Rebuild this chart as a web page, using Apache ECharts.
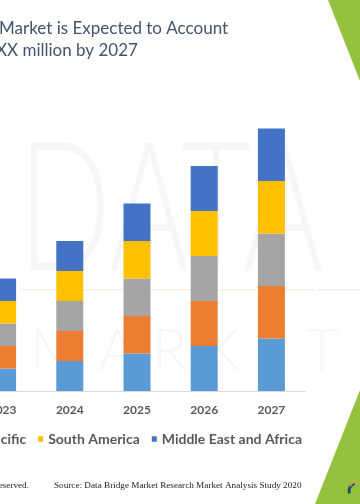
<!DOCTYPE html>
<html>
<head>
<meta charset="utf-8">
<script src="https://cdn.jsdelivr.net/npm/echarts@6/dist/echarts.min.js"></script>
<style>
html,body{margin:0;padding:0;background:#fff;}
#c{width:360px;height:504px;}
</style>
</head>
<body>
<div id="c"></div>
<script>
var categories = ['2023', '2024', '2025', '2026', '2027'];
var northAmerica = [3, 4, 5, 6, 7];
var europe = [3, 4, 5, 6, 7];
var asiaPacific = [3, 4, 5, 6, 7];
var southAmerica = [3, 4, 5, 6, 7];
var middleEastAfrica = [3, 4, 5, 6, 7];
var seriesNames = ['North America', 'Europe', 'Asia-Pacific', 'South America', 'Middle East and Africa'];
var seriesColors = ['#5B9BD5', '#ED7D31', '#A5A5A5', '#FFC000', '#4472C4'];
var seriesData = [northAmerica, europe, asiaPacific, southAmerica, middleEastAfrica];

var chart = echarts.init(document.getElementById('c'), null, {renderer: 'canvas'});

var series = seriesNames.map(function (n, i) {
  return {
    name: n,
    type: 'bar',
    stack: 'total',
    barWidth: 27,
    itemStyle: {color: seriesColors[i]},
    emphasis: {disabled: true},
    data: seriesData[i]
  };
});

var option = {
  animation: false,
  backgroundColor: '#ffffff',
  title: [
    {
      text: 'Source: Data Bridge Market Research Market Analysis Study 2020',
      left: 54, top: 481, padding: 0,
      textStyle: {fontFamily: 'Liberation Serif', fontSize: 9.2, fontWeight: 'normal', color: '#222222'}
    }
  ],
  graphic: [
    {
      type: 'text', z: -10, silent: true, x: 18, y: 122, scaleX: 0.68,
      style: {text: 'DATA BRIDGE', x: 0, y: 0, font: '300 180px Lato', fill: '#F6F6F6'}
    },
    {
      type: 'rect', z: -10, silent: true,
      shape: {x: 20, y: 289, width: 295, height: 1.5},
      style: {fill: '#FCEFE4'}
    },
    {
      type: 'rect', z: -10, silent: true,
      shape: {x: 318, y: 289, width: 42, height: 1.5},
      style: {fill: '#E8EFF8'}
    },
    {
      type: 'text', z: -10, silent: true,
      style: {text: 'M A R K E T', x: 30, y: 322, font: '300 58px Lato', fill: '#F7F7F7'}
    },
    {
      type: 'text', silent: true,
      style: {text: 'Market is Expected to Account', x: -1, y: 28.5, textVerticalAlign: 'middle',
        font: '17px Lato', fill: '#44546A'}
    },
    {
      type: 'text', silent: true,
      style: {text: 'XX million by 2027', x: -4, y: 51, textVerticalAlign: 'middle',
        font: '17px Lato', fill: '#44546A'}
    },
    {
      type: 'polygon', silent: true,
      shape: {points: [[328, 0], [360, 0], [360, 81]]},
      style: {fill: '#94C23F'}
    },
    {
      type: 'polygon', silent: true,
      shape: {points: [[360, 390], [360, 504], [315, 504]]},
      style: {fill: '#94C23F'}
    },
    {
      type: 'arc', silent: true,
      shape: {cx: 357, cy: 491, r: 8, startAngle: Math.PI * 0.9, endAngle: Math.PI * 1.4},
      style: {stroke: '#1F4E79', lineWidth: 3, fill: 'none'}
    },
    {
      type: 'arc', silent: true,
      shape: {cx: 359, cy: 491, r: 10, startAngle: Math.PI * 1.15, endAngle: Math.PI * 1.45},
      style: {stroke: '#E8A33C', lineWidth: 1.5, fill: 'none'}
    },
    {
      type: 'text',
      style: {text: 'All rights reserved.', x: 29, y: 486, textAlign: 'right', textVerticalAlign: 'middle',
        font: '9.2px "Liberation Serif"', fill: '#222222'}
    }
  ],
  legend: {
    data: seriesNames,
    right: 58, top: 432, width: 1200,
    padding: 0,
    icon: 'rect',
    itemWidth: 5, itemHeight: 5.5, itemGap: 12,
    textStyle: {fontFamily: 'Lato', fontSize: 14, fontWeight: 'bold', color: '#595959'}
  },
  grid: {left: -31, right: 55, top: 121, bottom: 113, outerBoundsMode: 'none', containLabel: false},
  xAxis: {
    type: 'category',
    data: categories,
    axisLine: {show: true, lineStyle: {color: '#D9D9D9', width: 1}},
    axisTick: {show: false},
    axisLabel: {margin: 13, fontFamily: 'Lato', fontSize: 12, fontWeight: 'bold', color: '#595959'},
    splitLine: {show: false}
  },
  yAxis: {
    type: 'value', min: 0, max: 36, show: false,
    splitLine: {show: false}
  },
  series: series
};
chart.setOption(option);
</script>
</body>
</html>
